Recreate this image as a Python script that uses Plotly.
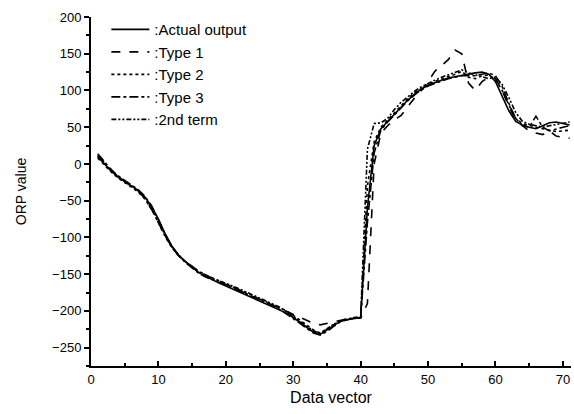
import plotly.graph_objects as go

# data vector index
x_vals = list(range(1, 72))

actual_output = [10, 0, -10, -18, -24, -30, -36, -45, -58, -75,
                 -95, -112, -124, -133, -141, -148, -153, -158, -162, -166,
                 -170, -174, -178, -182, -186, -190, -194, -198, -203, -209,
                 -216, -223, -229, -232, -226, -219, -214, -212, -210, -209,
                 -60, 25, 48, 58, 68, 78, 87, 95, 102, 107,
                 111, 114, 117, 119, 121, 122, 124, 125, 122, 112,
                 92, 72, 58, 53, 50, 48, 52, 56, 57, 55, 53]

type1 = [12, 2, -8, -17, -24, -30, -37, -47, -62, -80,
         -98, -113, -125, -133, -140, -146, -151, -156, -160, -164,
         -168, -172, -176, -180, -184, -188, -192, -196, -200, -205,
         -209, -213, -217, -219, -217, -214, -212, -211, -210, -210,
         -190, 0, 42, 52, 60, 66, 78, 90, 100, 112,
         126, 134, 142, 155, 150, 110, 100, 112, 118, 116,
         100, 78, 60, 52, 45, 42, 40, 45, 38, 36, 35]

type2 = [8, -2, -11, -19, -25, -31, -38, -48, -62, -80,
         -99, -114, -125, -133, -140, -146, -151, -155, -159, -163,
         -167, -171, -175, -179, -183, -187, -191, -195, -200, -206,
         -213, -220, -226, -230, -224, -218, -213, -211, -210, -209,
         -30, 30, 50, 60, 70, 80, 89, 97, 103, 108,
         112, 116, 119, 122, 126, 118, 116, 120, 121, 115,
         100, 80, 62, 55, 52, 50, 48, 46, 44, 45, 46]

type3 = [14, 3, -8, -16, -22, -28, -35, -44, -57, -76,
         -96, -113, -125, -134, -142, -149, -154, -158, -161, -164,
         -168, -172, -176, -180, -184, -188, -193, -198, -204, -210,
         -217, -224, -230, -233, -228, -221, -215, -212, -210, -210,
         -80, 15, 46, 57, 67, 77, 86, 94, 101, 106,
         110, 113, 116, 118, 120, 120, 120, 122, 124, 120,
         105, 82, 62, 52, 50, 65, 50, 45, 48, 50, 52]

second_term = [11, 1, -9, -17, -23, -29, -36, -46, -60, -78,
               -97, -112, -124, -133, -141, -147, -152, -156, -159, -162,
               -166, -170, -174, -178, -182, -186, -190, -195, -201, -207,
               -214, -221, -227, -231, -225, -218, -214, -211, -209, -208,
               20, 55, 56, 62, 74, 84, 92, 99, 105, 110,
               114, 118, 121, 125, 128, 124, 121, 118, 116, 118,
               108, 90, 70, 58, 54, 52, 50, 52, 54, 56, 57]

series = [
    (":Actual output", actual_output, "solid"),
    (":Type 1", type1, "dash"),
    (":Type 2", type2, "dot"),
    (":Type 3", type3, "dashdot"),
    (":2nd term", second_term, "5px,2px,2px,2px,2px,2px"),
]

fig = go.Figure()
for name, ys, dash in series:
    fig.add_trace(go.Scatter(
        x=x_vals, y=ys, mode="lines", name=name,
        line=dict(color="black", width=1.6, dash=dash)
    ))

fig.update_layout(
    width=574, height=414,
    margin=dict(l=91, r=3, t=17, b=48),
    paper_bgcolor="white", plot_bgcolor="white",
    font=dict(family="Liberation Sans, Arial", size=13, color="black"),
    legend=dict(x=0.032, y=1.011, xanchor="left", yanchor="top",
                bgcolor="rgba(0,0,0,0)", font=dict(size=15),
                tracegroupgap=0, itemwidth=38),
    showlegend=True,
)

fig.update_xaxes(
    range=[0, 71.2], showgrid=False, zeroline=False, automargin=False,
    showline=True, linecolor="black", linewidth=2,
    ticks="inside", ticklen=5, tickwidth=1.5, tickcolor="black",
    dtick=10, tick0=0,
    minor=dict(ticks="inside", ticklen=3, dtick=5, tickcolor="black"),
    title=dict(text="Data vector", font=dict(size=16), standoff=6),
)
fig.update_yaxes(
    range=[-275, 200], showgrid=False, zeroline=False, automargin=False,
    showline=True, linecolor="black", linewidth=2,
    ticks="outside", ticklen=5, tickwidth=1.5, tickcolor="black",
    dtick=50, tick0=0,
    minor=dict(ticks="outside", ticklen=3, dtick=25, tickcolor="black"),
    title=dict(text="ORP value", font=dict(size=14), standoff=22),
)

# drop the default page margin so the 574x414 figure fits the window
fig.write_html("out.html", config={"displayModeBar": False},
               post_script="document.body.style.margin='0';")
